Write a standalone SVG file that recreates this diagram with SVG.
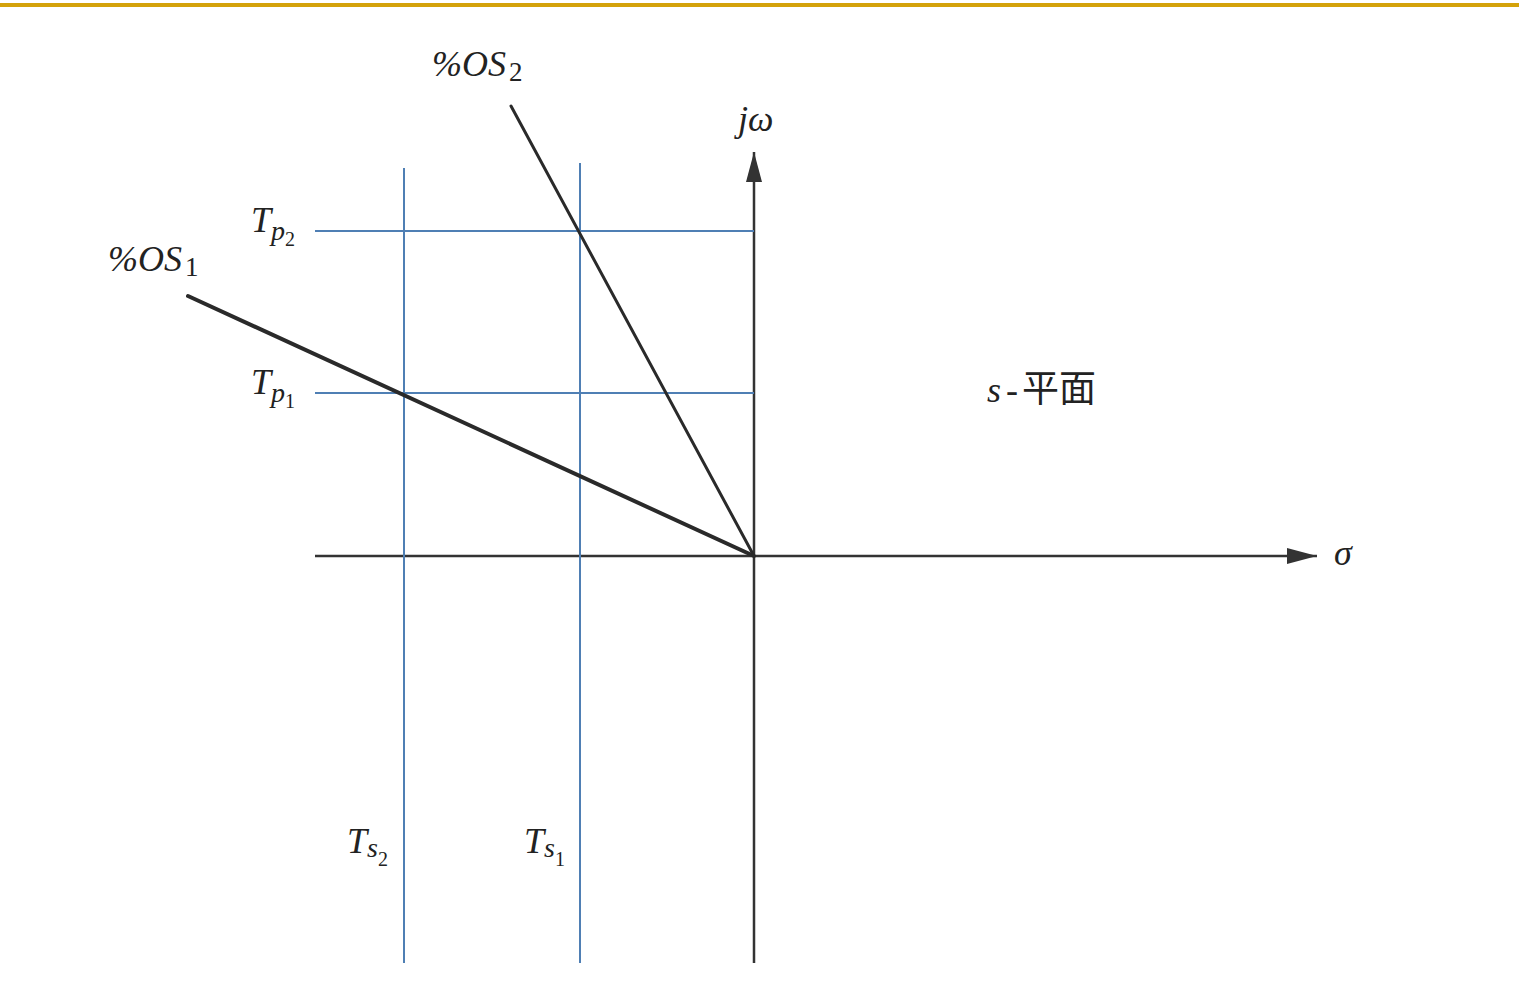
<svg xmlns="http://www.w3.org/2000/svg" width="1519" height="997" viewBox="0 0 1519 997">
<style>
.ax{stroke:#333;stroke-width:2.5;fill:none}
.bl{stroke:#4f7fb4;stroke-width:2;fill:none}
.os{stroke:#2a2a2a;fill:none;stroke-linecap:round}
.t{font-family:"Liberation Serif","Times New Roman",serif;font-style:italic;fill:#222;font-size:36px}
.sub{font-style:normal}
.cjk{font-family:"Noto Sans CJK TC","Noto Sans CJK SC",sans-serif;font-style:normal;fill:#222;font-size:37px}
</style>
<defs>
<marker id="ah" viewBox="0 0 30 16" refX="30" refY="8" markerWidth="30" markerHeight="16" markerUnits="userSpaceOnUse" orient="auto">
<path d="M0,0 L30,8 L0,16 Z" fill="#333"/>
</marker>
</defs>
<rect x="0" y="0" width="1519" height="997" fill="#fff"/>
<rect x="0" y="3" width="1519" height="4" fill="#d4a20a"/>
<g id="connectors">
<line id="sigma-axis" class="ax" x1="315" y1="556" x2="1317" y2="556" marker-end="url(#ah)"/>
<line id="jw-axis" class="ax" x1="754" y1="963" x2="754" y2="152" marker-end="url(#ah)"/>
<line id="ts2-line" class="bl" x1="404" y1="168" x2="404" y2="963"/>
<line id="ts1-line" class="bl" x1="580" y1="163" x2="580" y2="963"/>
<line id="tp2-line" class="bl" x1="315" y1="231" x2="754" y2="231"/>
<line id="tp1-line" class="bl" x1="315" y1="393" x2="754" y2="393"/>
<line id="os1-line" class="os" stroke-width="4" x1="188" y1="296" x2="754" y2="556"/>
<line id="os2-line" class="os" stroke-width="3" x1="511" y1="106" x2="754" y2="556"/>
</g>
<g id="label-os2"><text class="t" x="432" y="76">%OS<tspan class="sub" font-size="27" dx="3" dy="5">2</tspan></text></g>
<g id="label-os1"><text class="t" x="108" y="271">%OS<tspan class="sub" font-size="27" dx="3" dy="5">1</tspan></text></g>
<g id="label-jw"><text class="t" x="738" y="131">jω</text></g>
<g id="label-tp2"><text class="t" x="251" y="232">T<tspan font-size="28" dy="8">p</tspan><tspan class="sub" font-size="20" dy="6">2</tspan></text></g>
<g id="label-tp1"><text class="t" x="251" y="394">T<tspan font-size="28" dy="8">p</tspan><tspan class="sub" font-size="20" dy="6">1</tspan></text></g>
<g id="label-ts2"><text class="t" x="347" y="853">T<tspan font-size="28" dy="4">s</tspan><tspan class="sub" font-size="20" dy="9">2</tspan></text></g>
<g id="label-ts1"><text class="t" x="524" y="853">T<tspan font-size="28" dy="4">s</tspan><tspan class="sub" font-size="20" dy="9">1</tspan></text></g>
<g id="label-sigma"><text class="t" x="1334" y="565" font-size="34">σ</text></g>
<g id="label-splane"><text class="t" x="987" y="402">s<tspan class="sub" dx="5">-</tspan><tspan class="cjk" dx="4">平面</tspan></text></g>
</svg>
